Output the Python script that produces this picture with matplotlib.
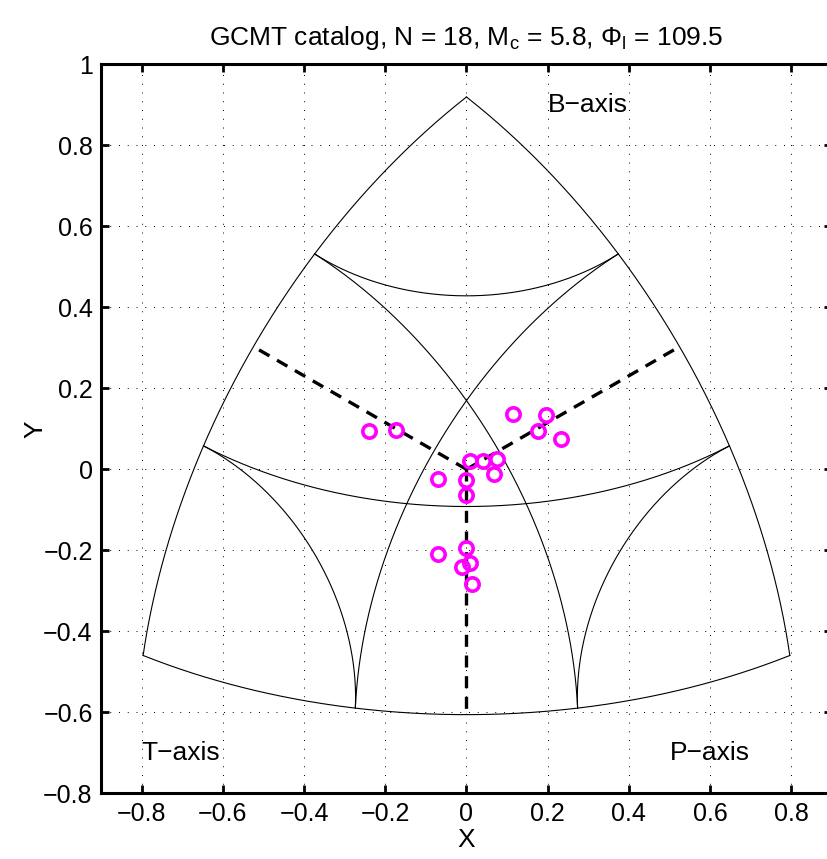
import numpy as np
import matplotlib.pyplot as plt

plt.rcParams['font.family'] = ['Liberation Sans', 'DejaVu Sans']

# event coordinates on the diagram
x_pts = [-0.240, -0.174, 0.114, 0.196, 0.175, 0.234, 0.009, 0.041, 0.076,
         0.068, -0.070, -0.002, 0.000, -0.002, -0.069, 0.009, -0.010, 0.013]
y_pts = [0.094, 0.096, 0.136, 0.133, 0.094, 0.076, 0.020, 0.020, 0.025,
         -0.012, -0.025, -0.027, -0.063, -0.195, -0.210, -0.232, -0.241, -0.284]

# plunge (deg) of the small circles drawn around each axis; 0 = outer edge
circle_plunges = [0, 30, 60]
# edge midpoints as (T, P, B) plunges, for the dashed lines from the centre
edge_mids = [(45, 0, 45), (0, 45, 45), (45, 45, 0)]
centre_plunge = np.degrees(np.arcsin(1 / np.sqrt(3)))


def project(t, p, b):
    # Lambert equal-area projection centred on (1,1,1)/sqrt(3)
    d = (t + p + b) / np.sqrt(3)
    k = np.sqrt(2 / (1 + d))
    return k * (p - t) / np.sqrt(2), k * (2 * b - t - p) / np.sqrt(6)


def from_plunges(dt, dp, db):
    return project(np.sin(np.radians(dt)), np.sin(np.radians(dp)), np.sin(np.radians(db)))


fig = plt.figure(figsize=(8.27, 8.59), dpi=100)
ax = fig.add_axes([0.1221, 0.0765, 0.8839, 0.8486])

phi = np.radians(np.linspace(0, 90, 400))
for pl in circle_plunges:
    c = np.cos(np.radians(pl))
    s = np.sin(np.radians(pl))
    u, v = c * np.cos(phi), c * np.sin(phi)
    w = np.full_like(phi, s)
    for t, p, b in [(w, u, v), (u, w, v), (u, v, w)]:
        xx, yy = project(t, p, b)
        ax.plot(xx, yy, color='black', lw=0.8)

cx, cy = from_plunges(centre_plunge, centre_plunge, centre_plunge)
for m in edge_mids:
    mx, my = from_plunges(*m)
    ax.plot([cx, mx], [cy, my], color='black', lw=2.4, dashes=(3.6, 2.6))

ax.plot(x_pts, y_pts, 'o', ms=9.6, mfc='none', mec='#ff00ff', mew=2.6)

ax.text(0.2, 0.9, 'B\u2212axis', fontsize=19, va='center')
ax.text(-0.8, -0.7, 'T\u2212axis', fontsize=19, va='center')
ax.text(0.5, -0.7, 'P\u2212axis', fontsize=19, va='center')

ax.set_xlim(-0.9, 0.9)
ax.set_ylim(-0.8, 1.0)
ax.set_xticks(np.arange(-0.8, 0.81, 0.2))
ax.set_yticks(np.arange(-0.8, 1.01, 0.2))
ax.set_xticklabels(['\u22120.8', '\u22120.6', '\u22120.4', '\u22120.2', '0', '0.2', '0.4', '0.6', '0.8'])
ax.set_yticklabels(['\u22120.8', '\u22120.6', '\u22120.4', '\u22120.2', '0', '0.2', '0.4', '0.6', '0.8', '1'])
ax.grid(True, color='black', lw=0.7, linestyle=(0, (1, 8)))
ax.tick_params(direction='in', length=6, width=2, labelsize=18, top=True, right=True, pad=6)
for sp in ax.spines.values():
    sp.set_linewidth(2.2)
ax.set_xlabel('X', fontsize=19, labelpad=2)
ax.set_ylabel('Y', fontsize=19, labelpad=-3)
ax.set_title('GCMT catalog, N = 18, M$_\\mathregular{c}$ = 5.8, $\\mathregular{\\Phi_l}$ = 109.5',
             fontsize=19, pad=14)

fig.savefig('out.png', dpi=100)
